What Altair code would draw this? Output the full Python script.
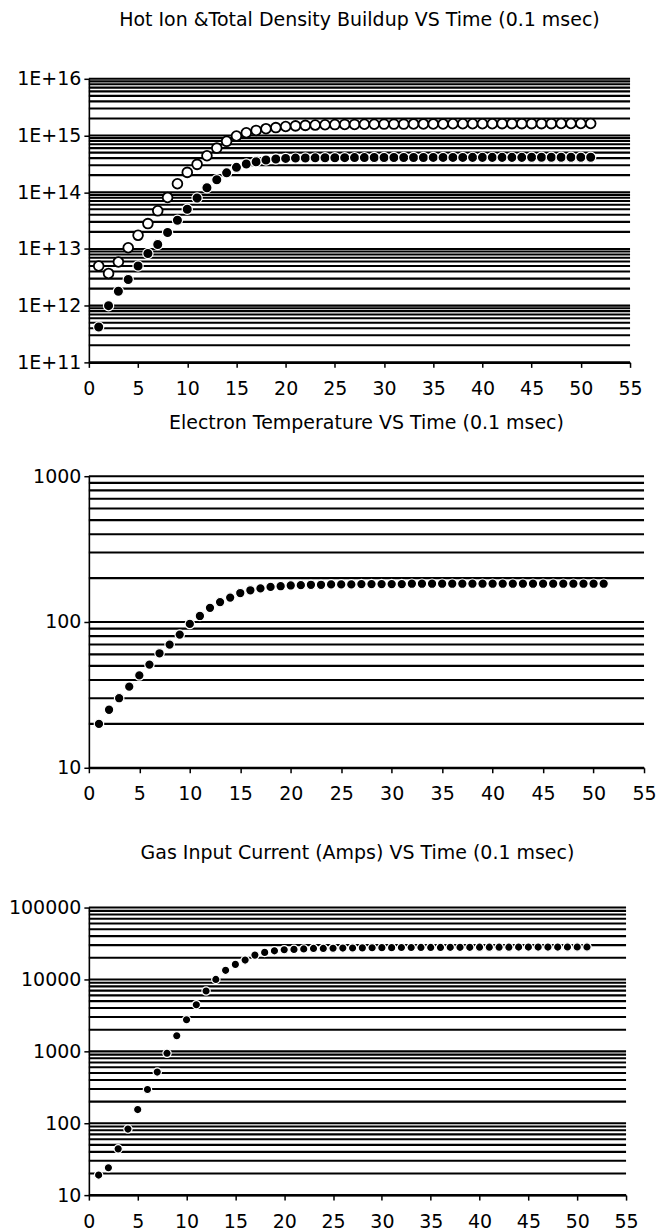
import altair as alt
import pandas as pd

# ---------------- data ----------------
TIME = [1, 2, 3, 4, 5, 6, 7, 8, 9, 10, 11, 12, 13, 14, 15, 16, 17, 18, 19, 20,
        21, 22, 23, 24, 25, 26, 27, 28, 29, 30, 31, 32, 33, 34, 35, 36, 37, 38,
        39, 40, 41, 42, 43, 44, 45, 46, 47, 48, 49, 50, 51]

TOTAL_DENSITY = [5.0e12, 3.7e12, 5.9e12, 1.05e13, 1.74e13, 2.8e13, 4.7e13, 8.1e13,
                 1.41e14, 2.24e14, 3.1e14, 4.4e14, 6.0e14, 7.9e14, 9.8e14, 1.12e15,
                 1.23e15, 1.32e15, 1.38e15, 1.44e15, 1.48e15, 1.51e15, 1.53e15, 1.55e15,
                 1.56e15, 1.57e15, 1.57e15, 1.58e15, 1.58e15, 1.59e15, 1.59e15, 1.59e15,
                 1.60e15, 1.60e15, 1.60e15, 1.60e15, 1.61e15, 1.61e15, 1.61e15, 1.61e15,
                 1.61e15, 1.62e15, 1.62e15, 1.62e15, 1.62e15, 1.62e15, 1.62e15, 1.63e15,
                 1.63e15, 1.63e15, 1.63e15]

HOT_ION_DENSITY = [4.2e11, 1.0e12, 1.8e12, 2.9e12, 5.0e12, 8.3e12, 1.2e13, 1.95e13,
                   3.2e13, 5.0e13, 7.9e13, 1.2e14, 1.66e14, 2.2e14, 2.75e14, 3.15e14,
                   3.45e14, 3.7e14, 3.85e14, 3.95e14, 4.0e14, 4.02e14, 4.04e14, 4.05e14,
                   4.06e14, 4.07e14, 4.08e14, 4.08e14, 4.09e14, 4.09e14, 4.1e14, 4.1e14,
                   4.1e14, 4.1e14, 4.11e14, 4.11e14, 4.11e14, 4.11e14, 4.12e14, 4.12e14,
                   4.12e14, 4.12e14, 4.12e14, 4.12e14, 4.13e14, 4.13e14, 4.13e14, 4.13e14,
                   4.13e14, 4.13e14, 4.13e14]

ELECTRON_TEMP = [20, 25, 30, 36, 43, 51, 61, 70, 82, 97, 110, 125, 137, 147, 158, 165,
                 170, 174, 176, 178, 179, 180, 180, 181, 181, 181, 182, 182, 182, 182,
                 182, 183, 183, 183, 183, 183, 183, 183, 183, 183, 183, 183, 183, 183,
                 183, 183, 183, 183, 183, 183, 183]

GAS_CURRENT = [19, 24, 44, 83, 155, 295, 515, 940, 1650, 2750, 4450, 6900, 10000,
               13400, 16200, 18600, 21800, 23800, 25000, 25900, 26200, 26600, 27000,
               27000, 27200, 27300, 27400, 27500, 27600, 27700, 27700, 27800, 27800,
               27900, 27900, 27900, 28000, 28000, 28000, 28100, 28100, 28100, 28100,
               28200, 28200, 28200, 28200, 28200, 28300, 28300, 28300]

TITLES = ["Hot Ion &Total Density Buildup VS Time (0.1 msec)",
          "Electron Temperature VS Time (0.1 msec)",
          "Gas Input Current (Amps) VS Time (0.1 msec)"]

X_TICKS = [0, 5, 10, 15, 20, 25, 30, 35, 40, 45, 50, 55]

FONT = "DejaVu Sans"


def log_grid(lo, hi):
    vals = []
    for k in range(lo, hi):
        for m in range(1, 10):
            vals.append(float(m) * 10.0 ** k)
    vals.append(10.0 ** hi)
    return vals


def make_panel(series, lo, hi, w, h, title, title_offset, label_expr=None):
    yscale = alt.Scale(type="log", domain=[10.0 ** lo, 10.0 ** hi], nice=False)
    xscale = alt.Scale(domain=[0, 55], nice=False, zero=False)
    yax = dict(values=[10.0 ** k for k in range(lo, hi + 1)], title=None, grid=False,
               tickSize=5, tickColor="black", tickWidth=1.5, domainColor="black",
               domainWidth=1.6, labelFont=FONT, labelFontSize=19, labelColor="black",
               labelPadding=3, labelFlush=False)
    if label_expr:
        yax["labelExpr"] = label_expr
    else:
        yax["format"] = "d"
    yaxis = alt.Axis(**yax)
    xaxis = alt.Axis(values=X_TICKS, title=None, grid=False, tickSize=5, tickColor="black",
                     tickWidth=1.5, domainColor="black", domainWidth=2, labelFont=FONT,
                     labelFontSize=19, labelColor="black", labelPadding=12, format="d",
                     labelFlush=False)
    layers = []
    for values, filled, size in series:
        df = pd.DataFrame({"t": TIME, "v": values})
        if filled:
            m = alt.Chart(df).mark_circle(size=size, fill="black", stroke="white",
                                          strokeWidth=1.2, opacity=1)
        else:
            m = alt.Chart(df).mark_circle(size=size, fill="white", stroke="black",
                                          strokeWidth=1.8, opacity=1)
        m = m.encode(
            x=alt.X("t:Q", scale=xscale, axis=xaxis),
            y=alt.Y("v:Q", scale=yscale, axis=yaxis),
        )
        layers.append(m)
    grid = alt.Chart(pd.DataFrame({"v": log_grid(lo, hi)})).mark_rule(
        color="black", strokeWidth=2.1
    ).encode(y=alt.Y("v:Q", scale=yscale, axis=yaxis))
    return alt.layer(grid, *layers).properties(
        width=w, height=h,
        title=alt.TitleParams(text=title, font=FONT, fontSize=19, fontWeight="normal",
                              color="black", offset=title_offset, anchor="middle"),
    )


p1 = make_panel([(TOTAL_DENSITY, False, 95), (HOT_ION_DENSITY, True, 105)], 11, 16,
                542, 284, TITLES[0], 40, label_expr="'1E+' + round(log(datum.value) / LN10)")
p2 = make_panel([(ELECTRON_TEMP, True, 90)], 1, 3, 556, 292, TITLES[1], 34)
p3 = make_panel([(GAS_CURRENT, True, 70)], 1, 5, 538, 288, TITLES[2], 36)

inner = alt.vconcat(p1, p2, spacing=16)
chart = alt.vconcat(inner, p3, spacing=40).configure_view(strokeWidth=0).properties(
    padding={"left": 8, "top": 10, "right": 5, "bottom": 0}, background="white"
)

chart.save("out.html", embed_options={"renderer": "svg", "actions": False})
